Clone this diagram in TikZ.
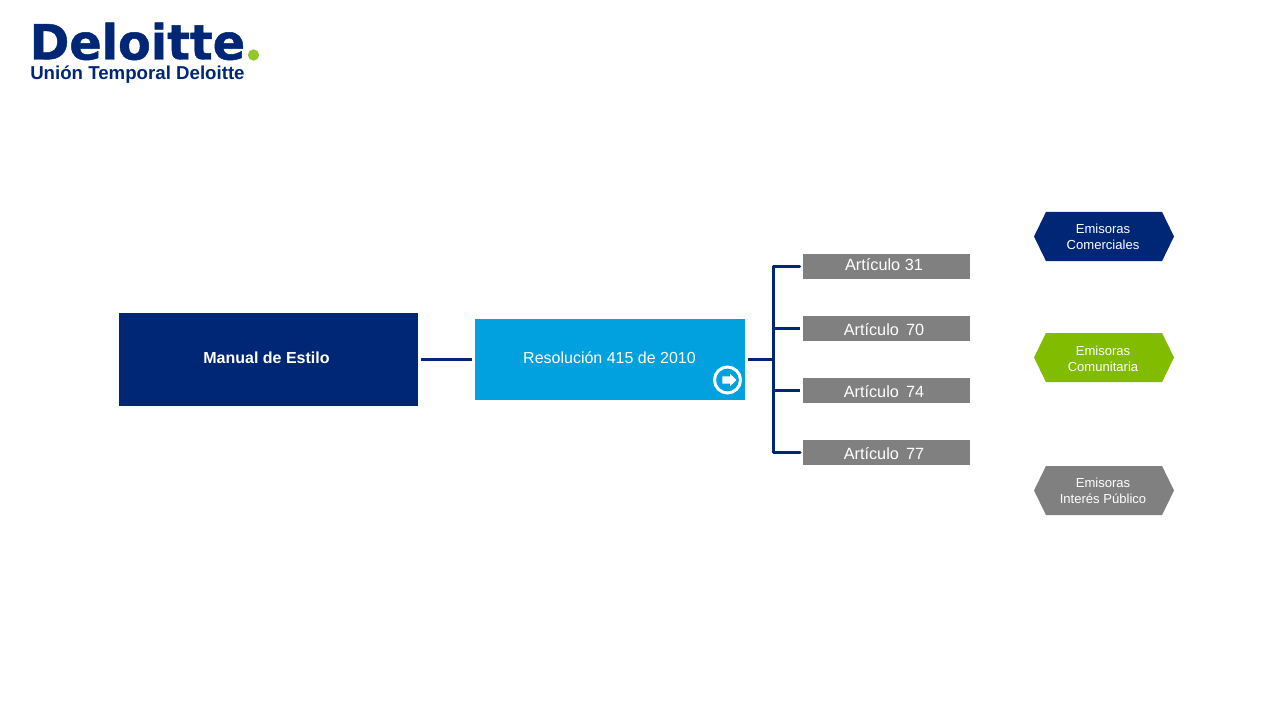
\documentclass[tikz,border=0pt]{standalone}
\usepackage{fontspec}
\setmainfont{Liberation Sans}
\newfontfamily\logofont[FakeBold=1]{DejaVu Sans Bold}
\usetikzlibrary{shapes.symbols,shapes.arrows}
\definecolor{navy}{HTML}{002776}
\definecolor{dgreen}{HTML}{81BC00}
\definecolor{dblue}{HTML}{00A1DE}
\definecolor{dgray}{HTML}{808080}
\tikzset{
  x=0.75pt,y=-0.75pt,
  mainbox/.style={rectangle,inner sep=0pt,minimum width=224.25pt,minimum height=69.75pt,fill=navy},
  resbox/.style={rectangle,inner sep=0pt,minimum width=202.5pt,minimum height=60.75pt,fill=dblue},
  artbox/.style={rectangle,inner sep=0pt,minimum width=125.25pt,minimum height=18.75pt,fill=dgray},
  arttext/.style={inner sep=0pt,text=white,font=\fontsize{12.2pt}{13pt}\selectfont,anchor=center},
  hexbox/.style={signal,signal from=nowhere,signal to=east and west,signal pointer angle=128,inner sep=0pt,minimum width=105pt,minimum height=36.75pt,fill=#1},
  hextext/.style={inner sep=0pt,text=white,align=center,font=\fontsize{9.8pt}{12pt}\selectfont},
  link/.style={draw=navy,line width=2.25pt},
  linkgap/.style={link,shorten >=2.25pt,shorten <=2.25pt},
  stub/.style={draw=navy,line width=2.25pt,shorten >=2.25pt},
}
\begin{document}
\begin{tikzpicture}
\useasboundingbox (0,0) rectangle (1280,720);
% logo
\node[inner sep=0pt,anchor=base west,text=navy,font=\fontsize{36.5pt}{38pt}\logofont,xscale=0.98,transform shape] (logo) at (29.5,59.5) {Deloitte};
\node[circle,inner sep=0pt,minimum size=8.5pt,fill=dgreen!85!white] (dot) at (253.5,55) {};
\node[inner sep=0pt,anchor=base west,text=navy,font=\fontsize{14pt}{15pt}\selectfont\bfseries] (ut) at (30,79.5) {Unión Temporal Deloitte};
% main boxes
\node[mainbox] (manual) at (268.5,359.5) {};
\node[inner sep=0pt,text=white,font=\fontsize{12pt}{14pt}\selectfont\bfseries] (manualtext) at (266.5,358) {Manual de Estilo};
\node[resbox] (res) at (610,359.5) {};
\node[inner sep=0pt,text=white,font=\fontsize{12pt}{14pt}\selectfont] (restext) at (609.5,358) {Resolución 415 de 2010};
\node[circle,draw=white,line width=2.25pt,inner sep=0pt,minimum size=19.5pt] (go) at (727.5,380) {};
\node[single arrow,fill=white,text height=0pt,text depth=0pt,text width=0pt,inner xsep=0pt,inner ysep=2.5pt,minimum height=10.5pt,single arrow head extend=2pt,single arrow tip angle=90] (goarrow) at (727.5,380) {};
% articles
\node[artbox] (a31) at (886.5,266.5) {};
\node[artbox] (a70) at (886.5,328.5) {};
\node[artbox] (a74) at (886.5,390.5) {};
\node[artbox] (a77) at (886.5,452.5) {};
\node[arttext] (t31) at (884,265) {Artículo 31};
\node[arttext] (t70) at (884,330) {Artículo\, 70};
\node[arttext] (t74) at (884,392) {Artículo\, 74};
\node[arttext] (t77) at (884,454) {Artículo\, 77};
% connectors
\coordinate (hub) at (773.5,359.5);
\path[linkgap] (manual.east) -- (res.west);
\draw[link,shorten <=2.25pt] (res.east) -- (hub);
\draw[link,line cap=round,line join=round] (a31.west) ++(-3,0) -| (hub |- a77.west) -- ++(26.5,0);
\draw[stub] (hub |- a70.west) -- (a70.west);
\draw[stub] (hub |- a74.west) -- (a74.west);
% hexagons
\node[hexbox=navy] (h1) at (1104,236.5) {};
\node[hexbox=dgreen] (h2) at (1104,357.5) {};
\node[hexbox=dgray] (h3) at (1104,490.5) {};
\node[hextext] (h1t) at (1103,237) {Emisoras\\Comerciales};
\node[hextext] (h2t) at (1103,359) {Emisoras\\Comunitaria};
\node[hextext] (h3t) at (1103,491) {Emisoras\\Interés Público};
\end{tikzpicture}
\end{document}
